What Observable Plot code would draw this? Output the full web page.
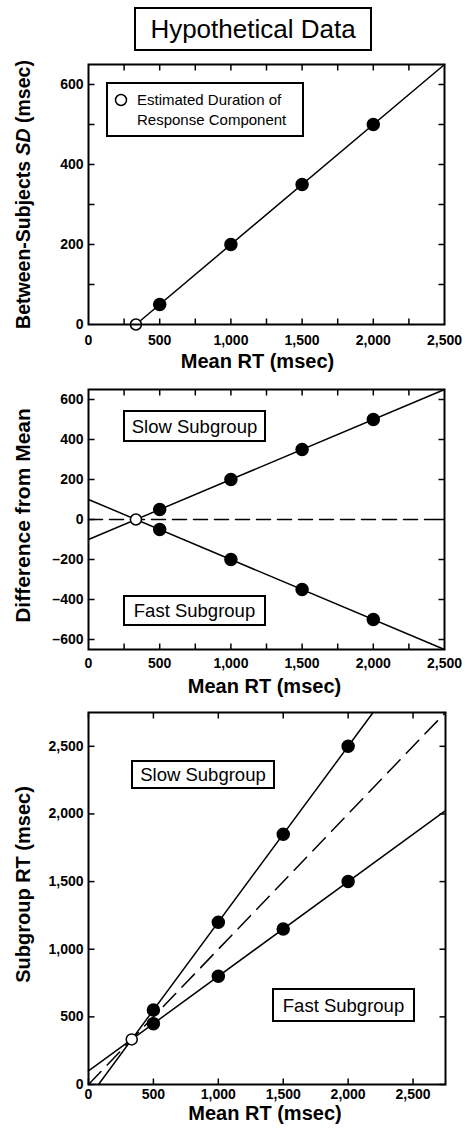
<!DOCTYPE html>
<html><head><meta charset="utf-8">
<script src="https://cdn.jsdelivr.net/npm/d3@7"></script>
<script src="https://cdn.jsdelivr.net/npm/@observablehq/plot@0.6"></script>
<style>
body{margin:0;background:#fff;}
</style></head><body>
<script>
// ---- data ----
const meanRT = [500, 1000, 1500, 2000];
const betweenSD = [50, 200, 350, 500];
const slowDiff = [50, 200, 350, 500];
const fastDiff = [-50, -200, -350, -500];
const slowRT = [550, 1200, 1850, 2500];
const fastRT = [450, 800, 1150, 1500];
const responseRT = 333; // estimated duration of response component
// fitted line end points
const sdLine = {x: [333, 2500], y: [0, 650]};
const slowDiffLine = {x: [0, 2500], y: [-100, 650]};
const fastDiffLine = {x: [0, 2500], y: [100, -650]};
const zeroLine = {x: [0, 2500], y: [0, 0]};
const slowRTLine = {x: [77, 2192], y: [0, 2750]};
const fastRTLine = {x: [0, 2750], y: [100, 2025]};
const identityLine = {x: [0, 2750], y: [0, 2750]};
// ticks
const xLabels12 = [0, 500, 1000, 1500, 2000, 2500];
const xMinor12 = [250, 500, 750, 1000, 1250, 1500, 1750, 2000, 2250];
const yLabels1 = [0, 200, 400, 600];
const yMinor1 = [100, 200, 300, 400, 500, 600];
const yLabels2 = [-600, -400, -200, 0, 200, 400, 600];
const xLabels3 = [0, 500, 1000, 1500, 2000, 2500];
const yLabels3 = [0, 500, 1000, 1500, 2000, 2500];
const titleText = "Hypothetical Data";
const xTitle = "Mean RT (msec)";
const legendLines = ["Estimated Duration of", "Response Component"];

const FONT = '"Liberation Sans", Arial, Helvetica, sans-serif';
const W = 465, H = 1130;
const pts = l => l.x.map((x, i) => ({x, y: l.y[i]}));
const zipXY = (xs, ys) => xs.map((x, i) => ({x, y: ys[i]}));
const fmt = d3.format(",");
const fmtSigned = d => d < 0 ? "\u2013" + fmt(-d) : fmt(d);

function makePanel(o) {
  const pw = W - o.ml - o.mr;
  const [x0, x1] = o.xDomain, [y0, y1] = o.yDomain;
  const tx = 6 * (x1 - x0) / pw;   // 6px inward tick, in x units
  const ty = 6 * (y1 - y0) / o.ph; // 6px inward tick, in y units
  const tk = {stroke: "black", strokeWidth: 1.5};
  const marks = [];
  for (const l of o.dashed) marks.push(Plot.line(pts(l), {x: "x", y: "y", stroke: "black", strokeWidth: 1.5, strokeDasharray: o.dash}));
  for (const l of o.lines) marks.push(Plot.line(pts(l), {x: "x", y: "y", stroke: "black", strokeWidth: 1.5}));
  marks.push(
    Plot.link(o.xMinor, {x1: d => d, x2: d => d, y1: () => y0, y2: () => y0 + ty, ...tk}),
    Plot.link(o.xMinor, {x1: d => d, x2: d => d, y1: () => y1, y2: () => y1 - ty, ...tk}),
    Plot.link(o.yMinor, {y1: d => d, y2: d => d, x1: () => x0, x2: () => x0 + tx, ...tk}),
    Plot.link(o.yMinor, {y1: d => d, y2: d => d, x1: () => x1, x2: () => x1 - tx, ...tk})
  );
  for (const d of o.filled) marks.push(Plot.dot(d, {x: "x", y: "y", r: 6, fill: "black", stroke: "black"}));
  marks.push(
    Plot.dot(o.open, {x: "x", y: "y", r: 5.5, fill: "white", stroke: "black", strokeWidth: 1.5}),
    Plot.frame({stroke: "black", strokeWidth: 2}),
    Plot.text(o.xLabels, {x: d => d, text: d => fmt(d), frameAnchor: "bottom", lineAnchor: "top", dy: o.xPad, fontSize: 14, fontWeight: "bold"}),
    Plot.text(o.yLabels, {y: d => d, text: d => (o.yFormat || fmt)(d), frameAnchor: "left", textAnchor: "end", lineAnchor: "middle", dx: -5, fontSize: 14, fontWeight: "bold"}),
    Plot.text([o.yTitle], {text: d => d, frameAnchor: "left", textAnchor: "middle", lineAnchor: "middle", rotate: -90, dx: -65, dy: o.yTitleDy, fontSize: o.yTitleSize, fontWeight: "bold"}),
    Plot.text([xTitle], {text: d => d, frameAnchor: "bottom", textAnchor: "middle", lineAnchor: "bottom", dx: o.xTitleDx, dy: o.xTitleDy, fontSize: 20, fontWeight: "bold"})
  );
  return Plot.plot({
    width: W, height: o.mt + o.ph + o.mb,
    marginLeft: o.ml, marginRight: o.mr, marginTop: o.mt, marginBottom: o.mb,
    style: {fontFamily: FONT, color: "black", overflow: "visible"},
    x: {domain: o.xDomain, axis: null},
    y: {domain: o.yDomain, axis: null},
    marks
  });
}

// one root SVG holding the three Plot panels and the annotation boxes
const root = d3.create("svg")
  .attr("xmlns", "http://www.w3.org/2000/svg")
  .attr("width", W).attr("height", H).attr("viewBox", `0 0 ${W} ${H}`)
  .style("display", "block").style("background", "white")
  .attr("font-family", FONT).attr("fill", "black");
root.append("rect").attr("width", W).attr("height", H).attr("fill", "white");
document.body.appendChild(root.node());

function place(svg, top) {
  const h = svg.getAttribute("height");
  svg.removeAttribute("class");
  svg.setAttribute("x", 0);
  svg.setAttribute("y", top);
  svg.style.width = W + "px";
  svg.style.height = h + "px";
  svg.style.maxWidth = "none";
  root.node().appendChild(svg);
}
function boxRect(left, top, w, h) {
  root.append("rect").attr("x", left + 1).attr("y", top + 1).attr("width", w - 2).attr("height", h - 2)
    .attr("fill", "white").attr("stroke", "black").attr("stroke-width", 2);
}
function boxed(text, left, top, w, h, fs) {
  boxRect(left, top, w, h);
  root.append("text").attr("x", left + w / 2).attr("y", top + h / 2 + 0.36 * fs)
    .attr("text-anchor", "middle").attr("font-size", fs).text(text);
}

// Panel 1
const p1 = makePanel({
  ml: 88, mr: 21, mt: 9, ph: 260, mb: 50,
  xDomain: [0, 2500], yDomain: [0, 650],
  xLabels: xLabels12, xMinor: xMinor12, yLabels: yLabels1, yMinor: yMinor1, xPad: 11,
  lines: [sdLine], dashed: [], dash: "14,7",
  filled: [zipXY(meanRT, betweenSD)],
  open: [{x: responseRT, y: 0}],
  yTitle: "Between-Subjects SD (msec)", yTitleDy: 0, yTitleSize: 19.5,
  xTitleDx: -9, xTitleDy: 43
});
for (const el of p1.querySelectorAll("text")) {
  if (el.textContent === "Between-Subjects SD (msec)") {
    const NS = "http://www.w3.org/2000/svg";
    while (el.firstChild) el.removeChild(el.firstChild);
    el.appendChild(document.createTextNode("Between-Subjects "));
    const ts = document.createElementNS(NS, "tspan");
    ts.setAttribute("font-style", "italic");
    ts.textContent = "SD";
    el.appendChild(ts);
    el.appendChild(document.createTextNode(" (msec)"));
  }
}
place(p1, 55);

// Panel 2
const p2 = makePanel({
  ml: 88, mr: 21, mt: 9, ph: 260, mb: 48,
  xDomain: [0, 2500], yDomain: [-650, 650],
  xLabels: xLabels12, xMinor: xMinor12, yLabels: yLabels2, yMinor: yLabels2, xPad: 9,
  yFormat: fmtSigned,
  lines: [slowDiffLine, fastDiffLine], dashed: [zeroLine], dash: "14,7",
  filled: [zipXY(meanRT, slowDiff), zipXY(meanRT, fastDiff)],
  open: [{x: responseRT, y: 0}],
  yTitle: "Difference from Mean", yTitleDy: -4, yTitleSize: 21,
  xTitleDx: -2, xTitleDy: 43
});
place(p2, 380);

// Panel 3
const p3 = makePanel({
  ml: 88, mr: 20, mt: 12, ph: 372, mb: 46,
  xDomain: [0, 2750], yDomain: [0, 2750],
  xLabels: xLabels3, xMinor: xLabels3, yLabels: yLabels3, yMinor: yLabels3, xPad: 5,
  lines: [slowRTLine, fastRTLine], dashed: [identityLine], dash: "18,9",
  filled: [zipXY(meanRT, slowRT), zipXY(meanRT, fastRT)],
  open: [{x: responseRT, y: responseRT}],
  yTitle: "Subgroup RT (msec)", yTitleDy: -14, yTitleSize: 20,
  xTitleDx: -2, xTitleDy: 35
});
place(p3, 700);

// Title
boxed(titleText, 134, 7, 238, 44, 26);

// Legend (panel 1)
boxRect(106, 82, 198, 55);
root.append("circle").attr("cx", 121).attr("cy", 100).attr("r", 5.5)
  .attr("fill", "white").attr("stroke", "black").attr("stroke-width", 1.5);
legendLines.forEach((s, i) => {
  root.append("text").attr("x", 137).attr("y", 105 + i * 20).attr("font-size", 15).text(s);
});

// Subgroup labels
boxed("Slow Subgroup", 123, 410, 143, 32, 18.5);
boxed("Fast Subgroup", 123, 595, 143, 31, 18.5);
boxed("Slow Subgroup", 131, 760, 144, 29, 18.5);
boxed("Fast Subgroup", 272, 988, 143, 34, 18.5);
</script></body></html>
